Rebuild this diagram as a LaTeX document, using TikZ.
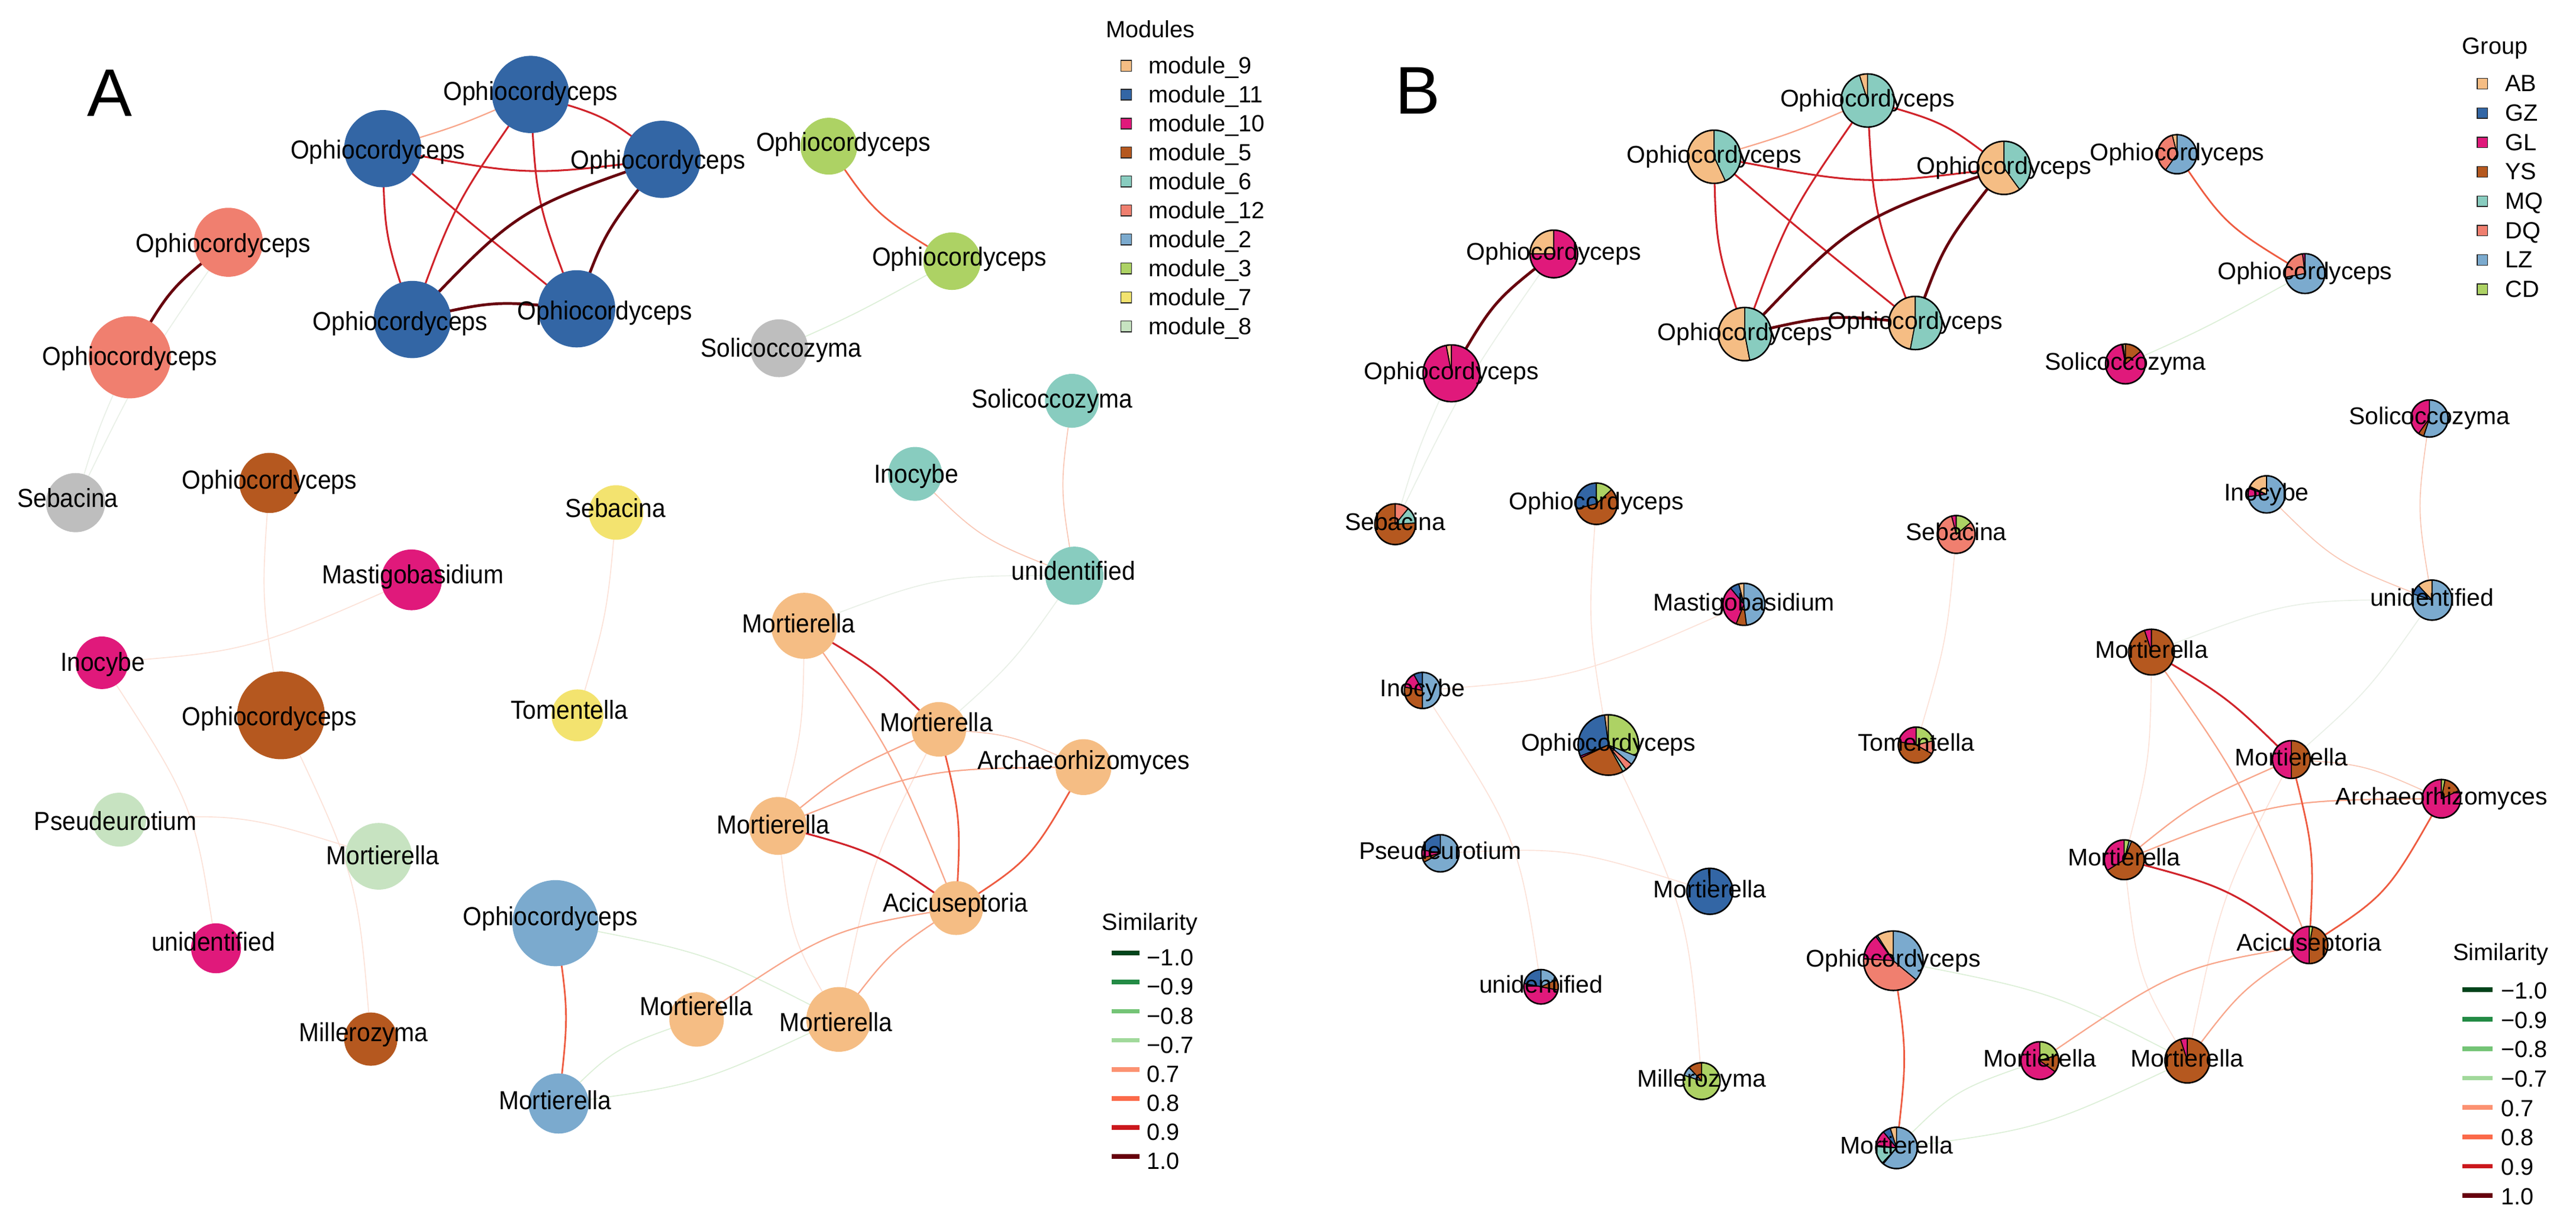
\documentclass[tikz,border=0pt]{standalone}
\usepackage{fontspec}
\setmainfont{Liberation Sans}
\usepackage{graphicx}
\usetikzlibrary{calc}
\definecolor{cAB}{HTML}{F5BD84}
\definecolor{cGZ}{HTML}{3366A5}
\definecolor{cGL}{HTML}{E0197B}
\definecolor{cYS}{HTML}{B5581F}
\definecolor{cMQ}{HTML}{88CCBF}
\definecolor{cDQ}{HTML}{F07F6F}
\definecolor{cLZ}{HTML}{7BAACE}
\definecolor{cCD}{HTML}{ADD264}
\definecolor{cYel}{HTML}{F3E36F}
\definecolor{cPale}{HTML}{C7E3C1}
\definecolor{cGrey}{HTML}{BEBEBE}
\definecolor{sA}{HTML}{00441B}
\definecolor{sB}{HTML}{238B45}
\definecolor{sC}{HTML}{74C476}
\definecolor{sD}{HTML}{A1D99B}
\definecolor{sE}{HTML}{FC9272}
\definecolor{sF}{HTML}{FB6A4A}
\definecolor{sG}{HTML}{CB181D}
\definecolor{sH}{HTML}{67000D}
\definecolor{eDark}{HTML}{67000D}
\definecolor{eRed}{HTML}{D0232A}
\definecolor{eOr}{HTML}{EE5B40}
\definecolor{eSal}{HTML}{F8A68B}
\definecolor{ePink}{HTML}{FCE2D8}
\definecolor{ePk2}{HTML}{F9C7B5}
\definecolor{eGrn}{HTML}{DCEFD7}
\definecolor{eGry}{HTML}{E9F0E7}
\tikzset{
 edark/.style={draw=eDark,line width=1.7pt},
 ered/.style={draw=eRed,line width=1.1pt},
 eor/.style={draw=eOr,line width=1.0pt},
 esal/.style={draw=eSal,line width=0.8pt},
 epink/.style={draw=ePink,line width=0.6pt},
 epk/.style={draw=ePk2,line width=0.6pt},
 egrn/.style={draw=eGrn,line width=0.6pt},
 egry/.style={draw=eGry,line width=0.6pt},
 anode/.style={circle,inner sep=0pt,draw=none},
 lbl/.style={font=\fontsize{14.7}{16}\selectfont,inner sep=0pt,text height=10.5pt,text depth=3pt,anchor=center},
 leg/.style={font=\fontsize{14.3}{16}\selectfont,inner sep=0pt,anchor=base west},
}
\newcommand\nd[4]{\coordinate (#1#2) at ({\pox+\psc*(#3)},{\poy+\psc*(#4)});}
\newcommand\allcoords[1]{%
\nd{#1}{t1}{323}{57.5}\nd{#1}{t2}{233}{90.5}\nd{#1}{t3}{403}{97}%
\nd{#1}{t4}{251}{194.5}\nd{#1}{t5}{351}{188}%
\nd{#1}{g1}{504.5}{89}\nd{#1}{g2}{579.5}{159}\nd{#1}{gs}{474.2}{212}%
\nd{#1}{s1}{139}{147.5}\nd{#1}{s2}{79}{217.5}\nd{#1}{seb}{46}{306}%
\nd{#1}{ob}{164}{294}\nd{#1}{ys}{375}{312}\nd{#1}{ti}{557}{288.5}%
\nd{#1}{tsol}{652.5}{244}\nd{#1}{tun}{654}{350.5}\nd{#1}{mas}{250.5}{353}%
\nd{#1}{im}{62}{403.5}\nd{#1}{bb}{171}{435.5}\nd{#1}{tom}{351.5}{435.5}%
\nd{#1}{pse}{72.5}{499}\nd{#1}{mlg}{230.5}{521.3}\nd{#1}{um}{131.5}{577.3}%
\nd{#1}{mil}{225.7}{632.6}\nd{#1}{lb}{338.1}{562}\nd{#1}{lbm}{340}{671.8}%
\nd{#1}{omt}{489.5}{381}\nd{#1}{om2}{571.5}{444}\nd{#1}{oml}{473.5}{502.8}%
\nd{#1}{ac}{582}{552.8}\nd{#1}{ar}{659.5}{467}\nd{#1}{oms}{424}{620.6}%
\nd{#1}{omb}{510.5}{620.6}}
\newcommand\edg[6]{\draw[#6] (#1#2) .. controls ($1.33333*({\pox+\psc*(#4)},{\poy+\psc*(#5)})-0.166667*(#1#2)-0.166667*(#1#3)$) .. (#1#3);}
\newcommand\alledges[1]{%
\edg{#1}{t2}{t1}{279}{76}{esal}%
\edg{#1}{t1}{t3}{367}{72}{ered}%
\edg{#1}{t2}{t3}{320}{104}{ered}%
\edg{#1}{t2}{t4}{236}{143}{ered}%
\edg{#1}{t2}{t5}{288}{137}{ered}%
\edg{#1}{t1}{t4}{279}{125}{ered}%
\edg{#1}{t1}{t5}{329}{123}{ered}%
\edg{#1}{t3}{t4}{318}{132}{edark}%
\edg{#1}{t3}{t5}{370}{142}{edark}%
\edg{#1}{t4}{t5}{301}{185}{edark}%
\edg{#1}{s1}{seb}{88}{224}{egry}%
\edg{#1}{seb}{s2}{60}{262}{egry}%
\edg{#1}{s1}{s2}{105}{177}{edark}%
\edg{#1}{g1}{g2}{535}{129}{eor}%
\edg{#1}{g2}{gs}{522}{190}{egrn}%
\edg{#1}{ob}{bb}{161}{365}{epink}%
\edg{#1}{ys}{tom}{368}{374}{epink}%
\edg{#1}{mas}{im}{153}{392}{epink}%
\edg{#1}{im}{um}{113}{490}{epink}%
\edg{#1}{bb}{mil}{213}{534}{epink}%
\edg{#1}{pse}{mlg}{149}{499}{epink}%
\edg{#1}{lb}{lbm}{344.5}{617}{eor}%
\edg{#1}{lb}{omb}{430}{583}{egrn}%
\edg{#1}{lbm}{oms}{376}{640}{egrn}%
\edg{#1}{lbm}{omb}{425.5}{657}{egrn}%
\edg{#1}{omt}{tun}{571}{354}{egry}%
\edg{#1}{om2}{tun}{616}{402}{egry}%
\edg{#1}{omt}{oml}{487}{444}{epink}%
\edg{#1}{oml}{omb}{484}{569}{epink}%
\edg{#1}{om2}{omb}{533}{526}{epink}%
\edg{#1}{om2}{ar}{615}{449}{epk}%
\edg{#1}{ti}{tun}{599}{326}{epk}%
\edg{#1}{tsol}{tun}{647}{297}{epk}%
\edg{#1}{omt}{ac}{542}{461}{esal}%
\edg{#1}{om2}{oml}{517}{470}{esal}%
\edg{#1}{oml}{ar}{563}{472}{esal}%
\edg{#1}{ac}{oms}{504}{571}{esal}%
\edg{#1}{ac}{omb}{543}{581}{esal}%
\edg{#1}{om2}{ac}{583}{498}{eor}%
\edg{#1}{ar}{ac}{626}{520}{eor}%
\edg{#1}{omt}{om2}{533.5}{409}{ered}%
\edg{#1}{oml}{ac}{532}{521}{ered}%
}
\newcommand\pienode[3]{%
 \gdef\pcang{90}%
 \foreach \pcol/\pfra in {#3}{%
  \pgfmathsetmacro\pcend{\pcang+\pfra*360}%
  \filldraw[fill=\pcol,draw=black,line width=0.6pt,line join=round] (#1) -- ++(\pcang:#2pt) arc[start angle=\pcang,end angle=\pcend,radius=#2pt] -- cycle;%
  \xdef\pcang{\pcend}%
 }%
 \draw[line width=0.9pt] (#1) circle[radius=#2pt];%
}
\newcommand\tallA[1]{\scalebox{1}[1.08]{#1}}
\newcommand\anod[3]{\node[anode,fill=#2,minimum size=#3*2pt] (cA#1) at (A#1) {};}
\begin{document}
\begin{tikzpicture}[x=1pt,y=-1pt]
\useasboundingbox (0,0) rectangle (1568,741.5);
\fill[white] (0,0) rectangle (1568,741.5);
% ---------------- panel A
\def\pox{0}\def\poy{0}\def\psc{1}
\allcoords{A}
\alledges{A}
\anod{t1}{cGZ}{23.5}\anod{t2}{cGZ}{23.5}\anod{t3}{cGZ}{23.5}\anod{t4}{cGZ}{23.5}\anod{t5}{cGZ}{23.5}
\anod{g1}{cCD}{17.3}\anod{g2}{cCD}{17.5}\anod{gs}{cGrey}{17.6}
\anod{s1}{cDQ}{21}\anod{s2}{cDQ}{25}\anod{seb}{cGrey}{18}
\anod{ob}{cYS}{18.3}\anod{bb}{cYS}{26.7}\anod{mil}{cYS}{16.2}
\anod{ys}{cYel}{16.6}\anod{tom}{cYel}{15.8}
\anod{ti}{cMQ}{16.4}\anod{tsol}{cMQ}{16.4}\anod{tun}{cMQ}{17.7}
\anod{mas}{cGL}{18.5}\anod{im}{cGL}{16}\anod{um}{cGL}{15.2}
\anod{pse}{cPale}{16.4}\anod{mlg}{cPale}{20.3}
\anod{lb}{cLZ}{26.2}\anod{lbm}{cLZ}{18.3}
\anod{omt}{cAB}{20.1}\anod{om2}{cAB}{16.6}\anod{oml}{cAB}{17.6}\anod{ac}{cAB}{16.4}
\anod{ar}{cAB}{17}\anod{oms}{cAB}{16.6}\anod{omb}{cAB}{19.7}
\foreach \n/\x/\y/\t in {t1/323/57.4/Ophiocordyceps, t2/230/93/Ophiocordyceps, t3/400.5/99.2/Ophiocordyceps,
  t4/243.6/197.5/Ophiocordyceps, t5/368.2/191/Ophiocordyceps, g1/513.4/88.4/Ophiocordyceps,
  g2/584/158/Ophiocordyceps, gs/475.5/213.6/Solicoccozyma, s1/135.9/149.8/Ophiocordyceps,
  s2/79/218.7/Ophiocordyceps, seb/41.2/305/Sebacina, ob/164/294/Ophiocordyceps,
  ys/374.6/311.2/Sebacina, ti/557.8/290.4/Inocybe, tsol/640.4/244.6/Solicoccozyma,
  tun/653.4/349.4/unidentified, mas/251.4/351.4/Mastigobasidium, im/62.5/404.8/Inocybe,
  bb/164/438/Ophiocordyceps, tom/346.5/434/Tomentella, pse/70.3/501.7/Pseudeurotium,
  mlg/232.9/522.4/Mortierella, um/129.8/575.1/unidentified, mil/221.4/630.2/Millerozyma,
  lb/335/559.7/Ophiocordyceps, lbm/337.9/671.5/Mortierella, omt/486.2/381.3/Mortierella,
  om2/569.9/441.7/Mortierella, oml/470.6/503.9/Mortierella, oms/423.8/614.3/Mortierella,
  omb/508.9/624/Mortierella, ac/581.5/551.5/Acicuseptoria, ar/659.6/464.7/Archaeorhizomyces}
  {\node[lbl] (lA\n) at (\x,\y) {\tallA{\t}};}
% ---------------- panel B
\def\pox{801.5}\def\poy{1.5}\def\psc{1.038}
\allcoords{B}
\alledges{B}
\pienode{Bt1}{16.2}{cAB/0.05,cMQ/0.95}
\pienode{Bt2}{16.2}{cAB/0.57,cMQ/0.43}
\pienode{Bt3}{16.2}{cAB/0.60,cMQ/0.40}
\pienode{Bt4}{16.2}{cAB/0.53,cMQ/0.47}
\pienode{Bt5}{16.2}{cAB/0.47,cMQ/0.53}
\pienode{Bg1}{11.9}{cAB/0.04,cDQ/0.36,cLZ/0.60}
\pienode{Bg2}{12.1}{cGL/0.02,cDQ/0.26,cLZ/0.72}
\pienode{Bgs}{12.1}{cAB/0.02,cGZ/0.01,cGL/0.83,cYS/0.14}
\pienode{Bs1}{14.5}{cAB/0.25,cGL/0.75}
\pienode{Bs2}{17.3}{cAB/0.03,cGL/0.97}
\pienode{Bseb}{12.4}{cYS/0.76,cMQ/0.13,cDQ/0.11}
\pienode{Bob}{12.6}{cGZ/0.29,cYS/0.58,cCD/0.13}
\pienode{Bmas}{12.8}{cAB/0.04,cGZ/0.07,cGL/0.33,cYS/0.08,cLZ/0.48}
\pienode{Bim}{11.0}{cGZ/0.08,cGL/0.14,cYS/0.28,cLZ/0.50}
\pienode{Bbb}{18.4}{cAB/0.02,cGZ/0.29,cGL/0.01,cYS/0.26,cMQ/0.02,cDQ/0.04,cLZ/0.05,cCD/0.31}
\pienode{Btom}{10.9}{cGL/0.22,cYS/0.45,cDQ/0.12,cCD/0.21}
\pienode{Bys}{11.5}{cGL/0.04,cDQ/0.82,cCD/0.14}
\pienode{Bpse}{11.3}{cGZ/0.22,cGL/0.07,cYS/0.04,cLZ/0.67}
\pienode{Bmlg}{14.0}{cAB/0.01,cGZ/0.99}
\pienode{Bum}{10.5}{cGZ/0.22,cGL/0.50,cYS/0.10,cLZ/0.18}
\pienode{Bmil}{11.2}{cYS/0.12,cLZ/0.08,cCD/0.80}
\pienode{Blb}{18.1}{cAB/0.09,cGZ/0.01,cGL/0.14,cDQ/0.40,cLZ/0.36}
\pienode{Blbm}{12.6}{cAB/0.05,cGZ/0.06,cGL/0.12,cYS/0.01,cMQ/0.14,cDQ/0.01,cLZ/0.61}
\pienode{Bomt}{13.9}{cGL/0.05,cYS/0.95}
\pienode{Bom2}{11.5}{cGL/0.50,cYS/0.50}
\pienode{Boml}{12.1}{cGL/0.34,cYS/0.60,cLZ/0.02,cCD/0.04}
\pienode{Bar}{11.7}{cGL/0.82,cYS/0.15,cCD/0.03}
\pienode{Bac}{11.3}{cGL/0.50,cYS/0.47,cCD/0.03}
\pienode{Boms}{11.5}{cGL/0.65,cYS/0.15,cCD/0.20}
\pienode{Bomb}{13.6}{cGL/0.05,cYS/0.95}
\pienode{Btsol}{11.3}{cGL/0.40,cYS/0.05,cLZ/0.55}
\pienode{Bti}{11.3}{cAB/0.18,cGZ/0.02,cGL/0.07,cLZ/0.73}
\pienode{Btun}{12.2}{cAB/0.12,cGZ/0.08,cLZ/0.80}
\foreach \n/\t in {t1/Ophiocordyceps, t2/Ophiocordyceps, t3/Ophiocordyceps, t4/Ophiocordyceps,
  t5/Ophiocordyceps, g1/Ophiocordyceps, g2/Ophiocordyceps, gs/Solicoccozyma, s1/Ophiocordyceps,
  s2/Ophiocordyceps, seb/Sebacina, ob/Ophiocordyceps, ys/Sebacina, ti/Inocybe, tsol/Solicoccozyma,
  tun/unidentified, mas/Mastigobasidium, im/Inocybe, bb/Ophiocordyceps, tom/Tomentella,
  pse/Pseudeurotium, mlg/Mortierella, um/unidentified, mil/Millerozyma, lb/Ophiocordyceps,
  lbm/Mortierella, omt/Mortierella, om2/Mortierella, oml/Mortierella, oms/Mortierella,
  omb/Mortierella, ac/Acicuseptoria, ar/Archaeorhizomyces}
  {\node[lbl] (lB\n) at (B\n) {\t};}
% ---------------- legends
\node[leg] (modT) at (672.9,23) {Modules};
\foreach \c/\t [count=\i from 0] in {cAB/module\_9, cGZ/module\_11, cGL/module\_10, cYS/module\_5,
  cMQ/module\_6, cDQ/module\_12, cLZ/module\_2, cCD/module\_3, cYel/module\_7, cPale/module\_8}
  {\draw[fill=\c,draw=black!85,line width=0.5pt] (682.2,{36.7+17.63*\i}) rectangle (688.8,{43.3+17.63*\i});
   \node[leg] (mod\i) at (699,{44.9+17.63*\i}) {\t};}
\node[leg] (grpT) at (1498.6,33) {Group};
\foreach \c/\t [count=\i from 0] in {cAB/AB, cGZ/GZ, cGL/GL, cYS/YS, cMQ/MQ, cDQ/DQ, cLZ/LZ, cCD/CD}
  {\draw[fill=\c,draw=black!85,line width=0.5pt] (1507.9,{47.8+17.87*\i}) rectangle (1514.2,{54.2+17.87*\i});
   \node[leg] (grp\i) at (1524.7,{55.8+17.87*\i}) {\t};}
\node[leg] (simAT) at (670.7,566.4) {Similarity};
\foreach \c/\t [count=\i from 0] in {sA/{−1.0}, sB/{−0.9}, sC/{−0.8}, sD/{−0.7}, sE/0.7, sF/0.8, sG/0.9, sH/1.0}
  {\draw[draw=\c,line width=2.8pt] (676.7,{580.2+17.7*\i}) -- (693.5,{580.2+17.7*\i});
   \node[leg] (simA\i) at (698,{588+17.7*\i}) {\t};}
\node[leg] (simBT) at (1492.9,584.5) {Similarity};
\foreach \c/\t [count=\i from 0] in {sA/{−1.0}, sB/{−0.9}, sC/{−0.8}, sD/{−0.7}, sE/0.7, sF/0.8, sG/0.9, sH/1.0}
  {\draw[draw=\c,line width=2.8pt] (1498.9,{602.6+17.9*\i}) -- (1517.2,{602.6+17.9*\i});
   \node[leg] (simB\i) at (1522.2,{608+17.9*\i}) {\t};}
\node[font=\fontsize{41}{41}\selectfont,inner sep=0pt,anchor=base] (letA) at (66.8,70.7) {A};
\node[font=\fontsize{41}{41}\selectfont,inner sep=0pt,anchor=base] (letB) at (863,69.3) {B};
\end{tikzpicture}
\end{document}
